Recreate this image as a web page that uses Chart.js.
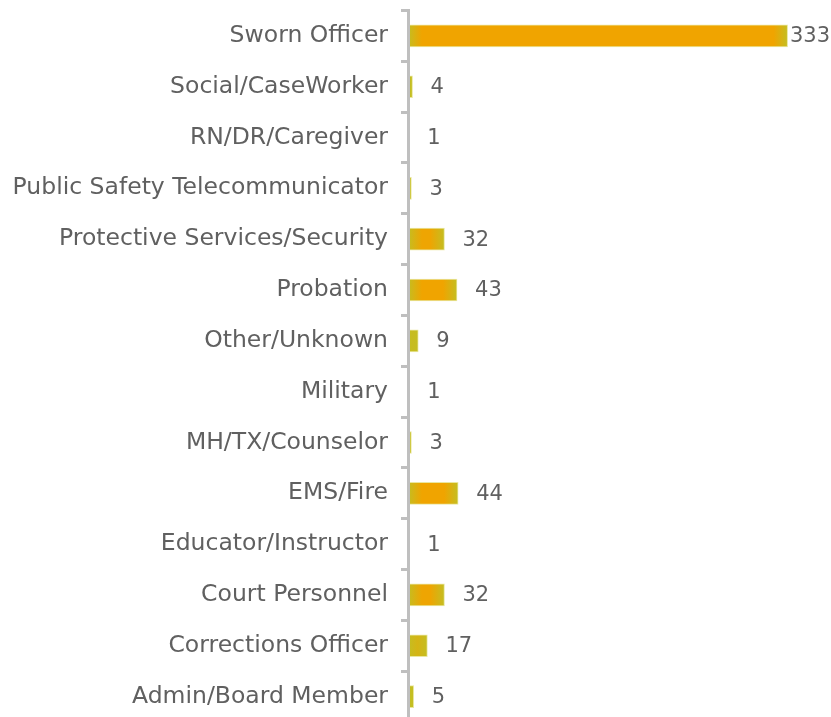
<!DOCTYPE html>
<html>
<head>
<meta charset="utf-8">
<script src="https://cdn.jsdelivr.net/npm/chart.js@4.4.1/dist/chart.umd.min.js"></script>
<style>
  html, body { margin: 0; padding: 0; background: #ffffff; overflow: hidden; }
  #wrap { position: relative; width: 831px; height: 722px; }
</style>
</head>
<body>
<div id="wrap"><canvas id="c"></canvas></div>
<script>
const categories = [
  "Sworn Officer",
  "Social/CaseWorker",
  "RN/DR/Caregiver",
  "Public Safety Telecommunicator",
  "Protective Services/Security",
  "Probation",
  "Other/Unknown",
  "Military",
  "MH/TX/Counselor",
  "EMS/Fire",
  "Educator/Instructor",
  "Court Personnel",
  "Corrections Officer",
  "Admin/Board Member"
];
const counts = [333, 4, 1, 3, 32, 43, 9, 1, 3, 44, 1, 32, 17, 5];

const FONT = "'DejaVu Sans', sans-serif";
const TEXT = "#606060";
const AXIS = "#BFBFBF";
const EDGE = [196, 190, 34];
const CENTER = [240, 164, 0];

function mix(a, b, t) {
  return 'rgb(' + a.map((v, i) => Math.round(v + (b[i] - v) * t)).join(',') + ')';
}

const barFill = {
  id: 'barFill',
  beforeDatasetsDraw(chart) {
    const ctx = chart.ctx;
    chart.getDatasetMeta(0).data.forEach(el => {
      const x0 = Math.min(el.base, el.x), x1 = Math.max(el.base, el.x);
      const w = Math.max(x1 - x0, 0.5);
      const t = Math.max(0, Math.min(1, (w - 8) / 30));
      const mid = mix(EDGE, CENTER, t);
      const g = ctx.createLinearGradient(x0, 0, x1, 0);
      const f = Math.min(0.5, 14 / w);
      g.addColorStop(0, mix(EDGE, EDGE, 0));
      g.addColorStop(f, mid);
      g.addColorStop(1 - f, mid);
      g.addColorStop(1, mix(EDGE, EDGE, 0));
      el.options = Object.assign({}, el.options, { backgroundColor: g });
    });
  }
};

const valueLabels = {
  id: 'valueLabels',
  afterDraw(chart) {
    const ctx = chart.ctx;
    ctx.save();
    ctx.font = "21px " + FONT;
    ctx.fillStyle = TEXT;
    ctx.textBaseline = 'middle';
    ctx.textAlign = 'left';
    chart.getDatasetMeta(0).data.forEach((el, i) => {
      const txt = String(counts[i]);
      const tw = ctx.measureText(txt).width;
      let x = el.x + 18;
      if (x + tw > chart.width - 1) x = chart.width - 1 - tw;
      ctx.fillText(txt, x, el.y + 1);
    });
    ctx.restore();
  }
};

new Chart(document.getElementById('c'), {
  type: 'bar',
  data: {
    labels: categories,
    datasets: [{
      data: counts,
      backgroundColor: () => '#F0A400',
      borderColor: 'rgba(232,228,150,0.9)',
      borderWidth: 1,
      borderSkipped: false,
      barThickness: 22
    }]
  },
  options: {
    indexAxis: 'y',
    responsive: true,
    maintainAspectRatio: false,
    animation: false,
    layout: { padding: { top: 10.5, right: 24, bottom: 0, left: 0 } },
    plugins: { legend: { display: false }, tooltip: { enabled: false } },
    scales: {
      x: { display: false, min: 0, max: 350 },
      y: {
        afterFit(scale) { scale.width = 408; scale.paddingTop = 0; scale.paddingBottom = 0; },
        border: { display: true, color: AXIS, width: 3, z: 1 },
        grid: { drawOnChartArea: false, drawTicks: true, tickLength: 7, tickWidth: 3, color: AXIS, offset: true },
        ticks: { color: TEXT, font: { family: FONT, size: 23.5 }, padding: 13 }
      }
    }
  },
  plugins: [barFill, valueLabels]
});
</script>
</body>
</html>
